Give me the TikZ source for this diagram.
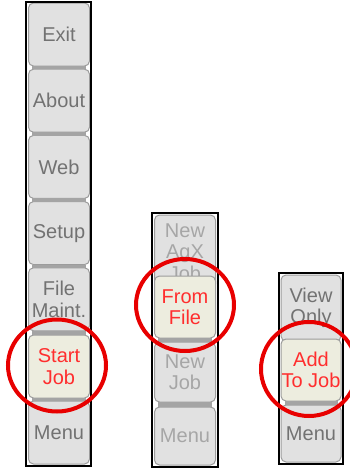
\documentclass[tikz,border=0pt]{standalone}
\usepackage{fontspec}
\setmainfont{Liberation Sans}
\usetikzlibrary{shapes.geometric}

\definecolor{btnfill}{HTML}{E1E1E1}
\definecolor{btnline}{HTML}{9C9C9C}
\definecolor{btntext}{HTML}{727272}
\definecolor{btndim}{HTML}{A6A6A6}
\definecolor{selfill}{HTML}{EDEDDF}
\definecolor{seltext}{HTML}{FF2E2E}
\definecolor{ringred}{HTML}{E80000}
\definecolor{gapgrey}{HTML}{A4A4A4}

\tikzset{
  btn/.style={rectangle, rounded corners=5pt, draw=btnline, line width=1pt,
    fill=btnfill, text=btntext, align=center, inner sep=0pt,
    minimum width=61pt, minimum height=63pt,
    font=\fontsize{20}{21.5}\selectfont},
  dim/.style={text=btndim},
  sel/.style={fill=selfill, text=seltext},
  ring/.style={ellipse, draw=ringred, line width=4pt, minimum width=98pt,
    minimum height=92pt, inner sep=0pt},
  panel/.style={draw=black, line width=2pt},
  gapbar/.style={fill=gapgrey}
}

\begin{document}
\begin{tikzpicture}[x=1pt,y=-1pt]
\useasboundingbox (0,0) rectangle (349,469);
% left column
\node [btn] (exit) at (59,34.5) {Exit};
\node [btn] (about) at (59,100.7) {About};
\node [btn] (web) at (59,166.9) {Web};
\node [btn] (setup) at (59,233.1) {Setup};
\node [btn] (maint) at (59,299.3) {File\\Maint.};
\node [btn,sel] (start) at (59,366.5) {Start\\Job};
\node [btn] (menua) at (59,432.5) {Menu};
\draw [panel] (26,2) rectangle (91,466);
% middle column
\node [btn,dim,minimum height=74pt] (agx) at (185,252) {New\\AgX\\Job};
\node [btn,sel,minimum height=62pt] (fromfile) at (185,307) {From\\File};
\node [btn,dim,minimum height=60pt] (newjob) at (185,372) {New\\Job};
\node [btn,dim,minimum height=58pt] (menub) at (185,436) {Menu};
\draw [panel] (152,213) rectangle (218,467);
% right column
\node [btn,minimum width=60pt,minimum height=66pt] (view) at (311,308) {View\\Only};
\node [btn,sel,minimum width=60pt,minimum height=62pt] (addjob) at (311,370) {Add\\To Job};
\node [btn,minimum width=60pt,minimum height=57pt] (menuc) at (311,433.5) {Menu};
\draw [panel] (279,273) rectangle (343,464);
% grey bars between the buttons
\foreach \a/\b in {exit/about,about/web,web/setup,setup/maint,maint/start,
    start/menua,fromfile/newjob,newjob/menub,addjob/menuc}
  \fill [gapbar] ([xshift=4pt,yshift=0.6pt]\a.south west) rectangle ([xshift=-4pt,yshift=-0.6pt]\b.north east);
% red rings
\node [ring] (ringa) at ([xshift=-2pt,yshift=1pt]start.center) {};
\node [ring] (ringb) at ([yshift=2pt]fromfile.center) {};
\node [ring,minimum width=96pt,minimum height=94pt] (ringc) at ([xshift=-2pt,yshift=1pt]addjob.center) {};
\end{tikzpicture}
\end{document}
